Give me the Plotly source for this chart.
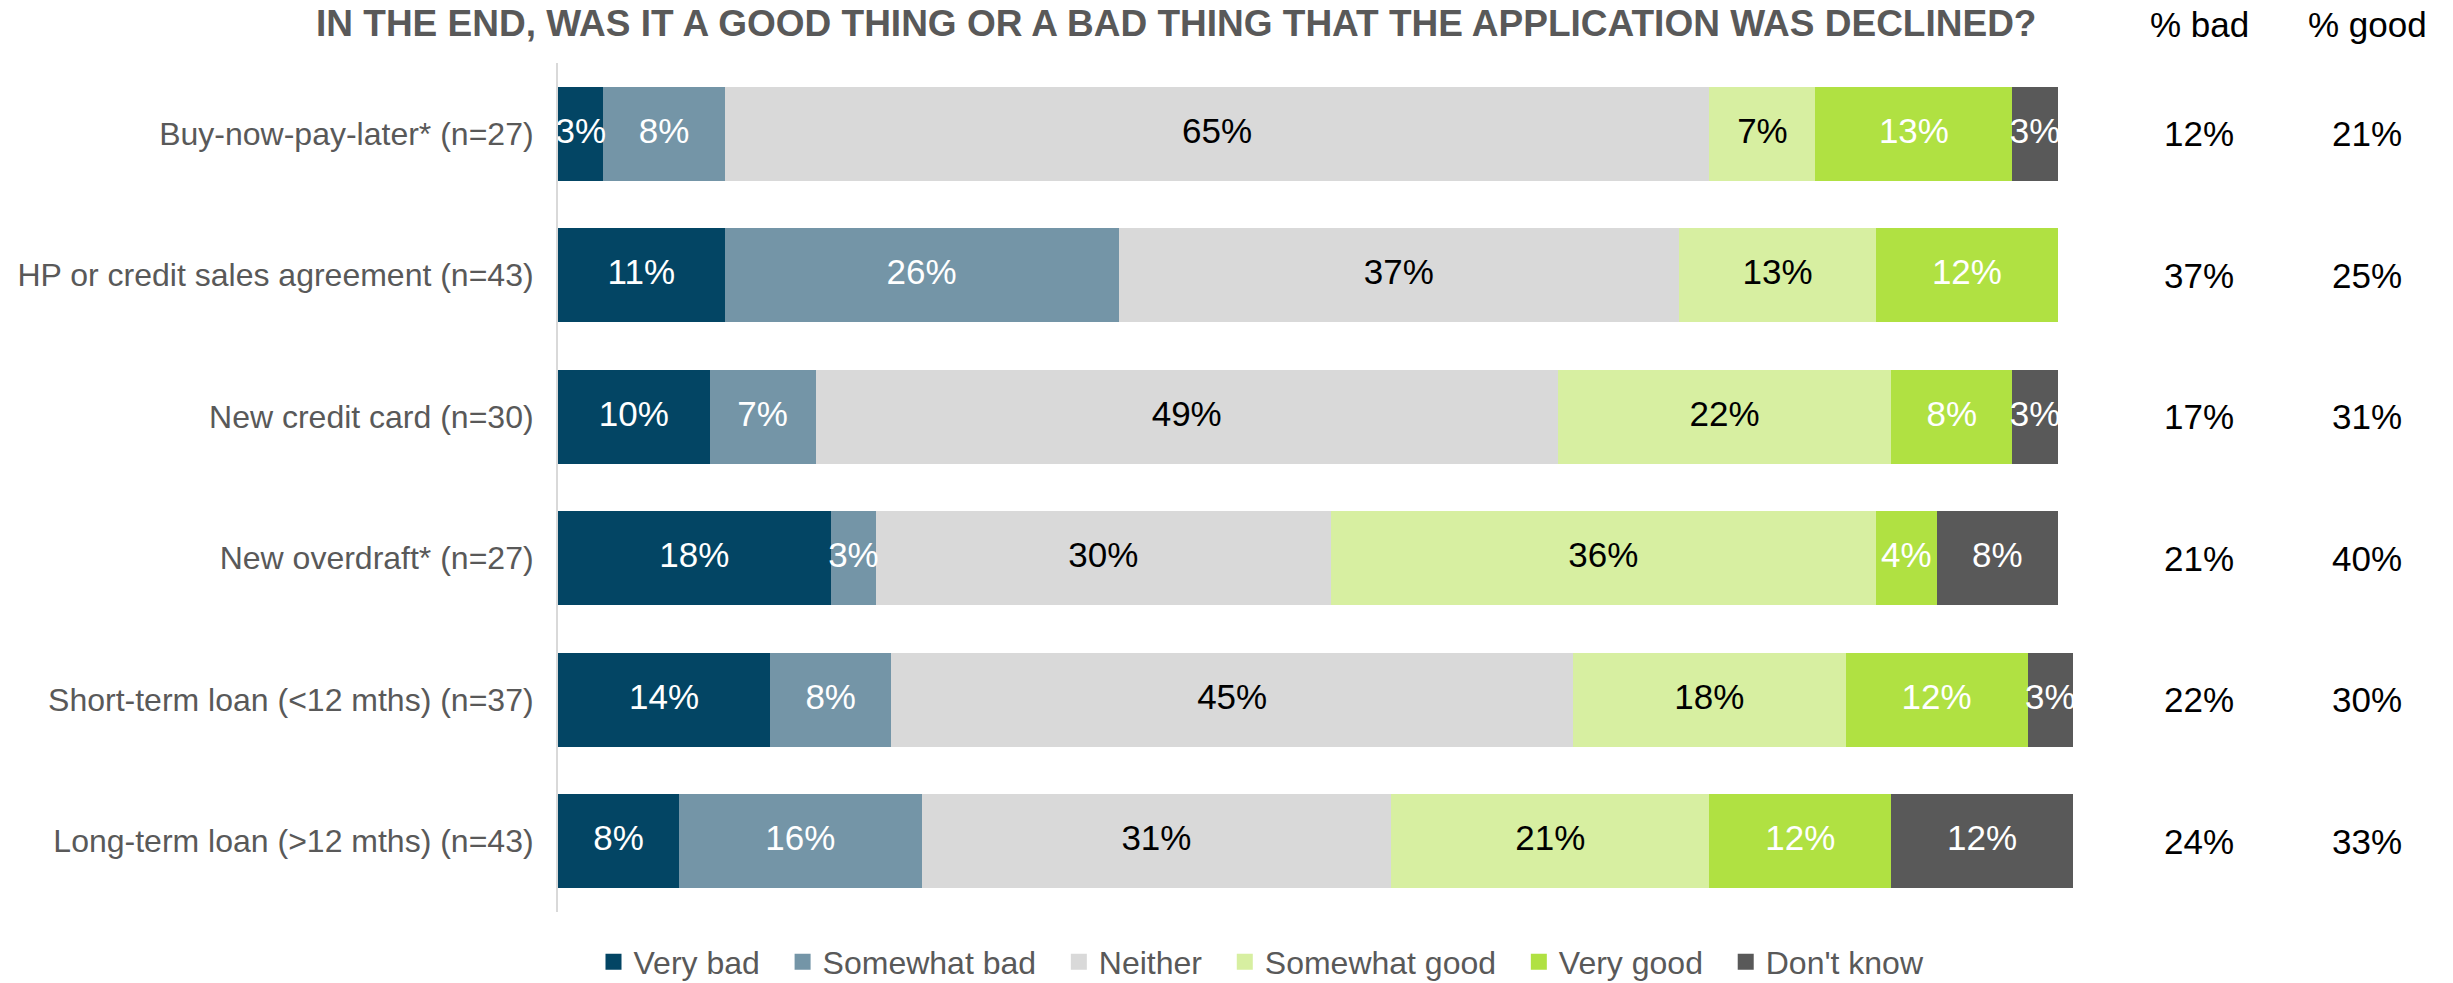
import plotly.graph_objects as go

# Survey rows (top to bottom)
categories = [
    "Buy-now-pay-later* (n=27)",
    "HP or credit sales agreement (n=43)",
    "New credit card (n=30)",
    "New overdraft* (n=27)",
    "Short-term loan (<12 mths) (n=37)",
    "Long-term loan (>12 mths) (n=43)",
]

series_names = ["Very bad", "Somewhat bad", "Neither", "Somewhat good", "Very good", "Don't know"]

very_bad = [3, 11, 10, 18, 14, 8]
somewhat_bad = [8, 26, 7, 3, 8, 16]
neither = [65, 37, 49, 30, 45, 31]
somewhat_good = [7, 13, 22, 36, 18, 21]
very_good = [13, 12, 8, 4, 12, 12]
dont_know = [3, 0, 3, 8, 3, 12]

pct_bad = [12, 37, 17, 21, 22, 24]
pct_good = [21, 25, 31, 40, 30, 33]

series_values = [very_bad, somewhat_bad, neither, somewhat_good, very_good, dont_know]
series_colors = ["#034564", "#7495A7", "#D9D9D9", "#D7EFA1", "#B0E142", "#595959"]
label_colors = ["#FFFFFF", "#FFFFFF", "#000000", "#000000", "#FFFFFF", "#FFFFFF"]

FONT = "Liberation Sans, Arial, sans-serif"
W, H = 2453, 983
M_L, M_R, M_T, M_B = 558, 380, 63, 71
plot_w = W - M_L - M_R
plot_h = H - M_T - M_B

fig = go.Figure()

# Stacked bars
for name, vals, col in zip(series_names, series_values, series_colors):
    fig.add_trace(go.Bar(
        x=vals, y=categories, orientation="h", name=name,
        marker=dict(color=col, line=dict(width=0)),
        legendgroup=name, showlegend=False, hoverinfo="skip",
    ))

# Segment value labels, centred in each segment
running = [0] * len(categories)
for name, vals, tcol in zip(series_names, series_values, label_colors):
    xs, ys, txt = [], [], []
    for i, v in enumerate(vals):
        if v > 0:
            xs.append(running[i] + v / 2)
            ys.append(categories[i])
            txt.append(f"{v}%")
        running[i] += v
    fig.add_trace(go.Scatter(
        x=xs, y=ys, text=txt, mode="text", showlegend=False, hoverinfo="skip",
        textposition="middle center", cliponaxis=True,
        textfont=dict(family=FONT, size=35, color=tcol),
    ))

# Legend entries with square swatches (trailing spaces widen the item spacing)
for name, col in zip(series_names, series_colors):
    fig.add_trace(go.Scatter(
        x=[None], y=[None], mode="markers", name=name + "\u00a0\u00a0", legendgroup=name,
        marker=dict(symbol="square", size=16, color=col),
        hoverinfo="skip",
    ))

# Summary columns
col_bad_x = (2199 - M_L) / plot_w
col_good_x = (2367 - M_L) / plot_w
head_y = (H - M_B - 25) / plot_h
annotations = []
for cat, b, g in zip(categories, pct_bad, pct_good):
    annotations.append(dict(x=col_bad_x, y=cat, xref="paper", yref="y", text=f"{b}%",
                            showarrow=False, xanchor="center", yanchor="middle",
                            font=dict(family=FONT, size=35, color="#000000")))
    annotations.append(dict(x=col_good_x, y=cat, xref="paper", yref="y", text=f"{g}%",
                            showarrow=False, xanchor="center", yanchor="middle",
                            font=dict(family=FONT, size=35, color="#000000")))
for txt, xx in [("% bad", col_bad_x), ("% good", col_good_x)]:
    annotations.append(dict(x=xx, y=head_y, xref="paper", yref="paper", text=txt,
                            showarrow=False, xanchor="center", yanchor="middle",
                            font=dict(family=FONT, size=35, color="#000000")))

# Title
annotations.append(dict(
    x=(1176 - M_L) / plot_w, y=(H - M_B - 23) / plot_h, xref="paper", yref="paper",
    text="<b>IN THE END, WAS IT A GOOD THING OR A BAD THING THAT THE APPLICATION WAS DECLINED?</b>",
    showarrow=False, xanchor="center", yanchor="middle",
    font=dict(family=FONT, size=37, color="#595959"),
))

fig.update_layout(
    width=W, height=H,
    margin=dict(l=M_L, r=M_R, t=M_T, b=M_B, pad=0),
    barmode="stack", bargap=0.336,
    plot_bgcolor="#FFFFFF", paper_bgcolor="#FFFFFF",
    showlegend=True,
    legend=dict(
        orientation="h", xref="container", yref="container",
        x=1270 / W, y=1 - 962 / H, xanchor="center", yanchor="middle",
        font=dict(family=FONT, size=32, color="#595959"),
        itemclick=False, itemdoubleclick=False, traceorder="normal",
    ),
    xaxis=dict(range=[0, 100], visible=False, fixedrange=True),
    yaxis=dict(
        categoryorder="array", categoryarray=categories, autorange="reversed",
        showline=True, linecolor="#D9D9D9", linewidth=2,
        showgrid=False, zeroline=False, ticks="", ticklabelstandoff=16,
        tickfont=dict(family=FONT, size=32, color="#595959"), fixedrange=True,
    ),
    annotations=annotations,
)

fig.write_html("out.html")
